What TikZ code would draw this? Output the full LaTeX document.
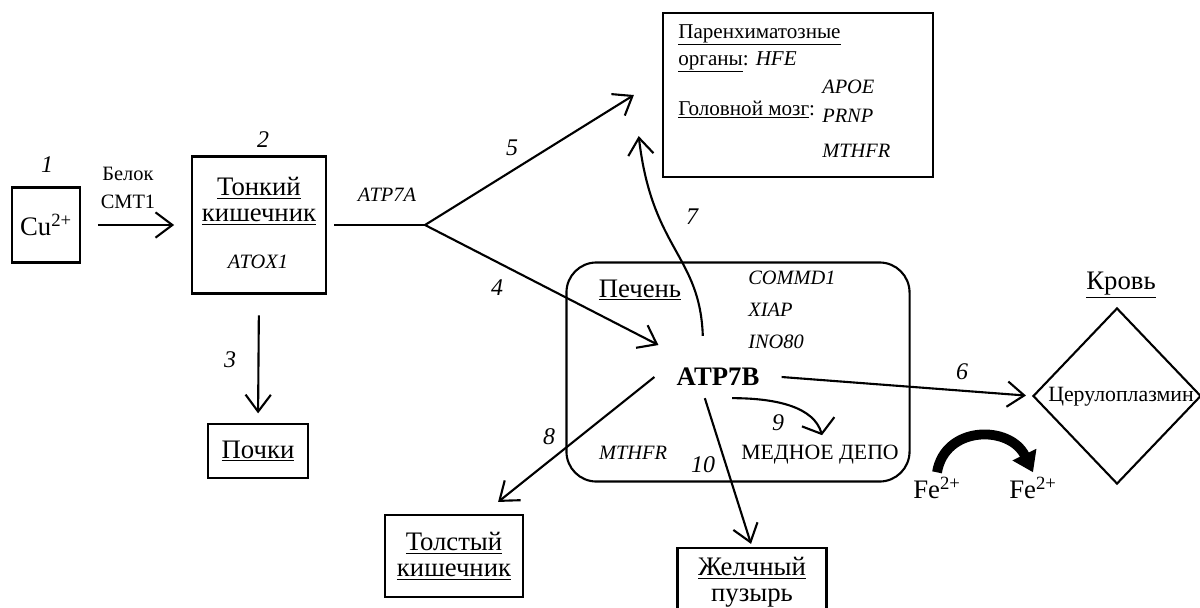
\documentclass[tikz,border=0pt]{standalone}
\usepackage{fontspec}
\setmainfont{Liberation Serif}
\usetikzlibrary{arrows.meta, shapes.geometric, calc}

\tikzset{
  box/.style={draw, line width=1.5pt, inner sep=0pt},
  organ/.style={font=\fontsize{19}{18.5}\selectfont, align=center},
  note/.style={font=\fontsize{15}{19}\selectfont, inner sep=0pt},
  gene/.style={font=\fontsize{14.5}{16}\selectfont\itshape, inner sep=0pt},
  num/.style={font=\fontsize{17}{17}\selectfont\itshape, inner sep=0pt},
  arrow/.style={-{Straight Barb[length=12pt, width=18pt]}, line width=1.5pt},
  checktip/.style={-{Straight Barb[length=9pt, width=24pt]}, line width=1.5pt},
}

\begin{document}
\begin{tikzpicture}[x=0.025cm, y=-0.025cm]
  \useasboundingbox (0,0) rectangle (1200,607);

  \node[box, organ, minimum width=1.7cm, minimum height=1.875cm] (cu) at (46,225) {Cu\textsuperscript{2+}};
  \node[num] (n1) at (47,165) {1};
  \node[note, align=center, font=\fontsize{14.5}{20.5}\selectfont] (cmt) at (128,188) {Белок\\СМТ1};

  \node[box, minimum width=3.35cm, minimum height=3.425cm] (small) at (259,225) {};
  \node[organ] (smalltxt) at (259,201) {\underline{Тонкий}\\\underline{кишечник}};
  \node[gene] (atox) at (258,262) {ATOX1};
  \node[num] (n2) at (263,140) {2};
  \node[gene] (atp7a) at (387,195) {ATP7A};
  \coordinate (fork) at (425,225);

  \node[box, minimum width=6.75cm, minimum height=4.1cm] (paren) at (798,95) {};
  \node[note, anchor=base west] (parentxt) at (678,38) {\underline{Паренхиматозные}};
  \node[note, anchor=base west] (organs) at (678,65) {\underline{органы}: \textit{HFE}};
  \node[note, anchor=base west] (brain) at (678,115) {\underline{Головной мозг}:};
  \node[gene, anchor=base west] (apoe) at (822,93) {APOE};
  \node[gene, anchor=base west] (prnp) at (822,122) {PRNP};
  \node[gene, anchor=base west] (mthfrb) at (822,157) {MTHFR};

  \node[box, organ, minimum width=2.5cm, minimum height=1.33cm] (kidney) at (258,451) {\underline{Почки}};
  \node[num] (n3) at (230,360) {3};

  \node[box, rounded corners=0.75cm, minimum width=8.575cm, minimum height=5.475cm] (liver) at (738,372) {};
  \node[organ] (livertxt) at (640,290) {\underline{Печень}};
  \node[gene, anchor=west] (commd) at (748,278) {COMMD1};
  \node[gene, anchor=west] (xiap) at (748,310) {XIAP};
  \node[gene, anchor=west] (ino) at (748,342) {INO80};
  \node[font=\fontsize{19}{19}\selectfont\bfseries, inner xsep=0.55cm, inner ysep=0.3cm] (atp) at (718,377) {ATP7B};
  \node[gene] (mthfrl) at (633,453) {MTHFR};
  \node[note, font=\fontsize{15.5}{16}\selectfont] (depo) at (820,455) {МЕДНОЕ ДЕПО};

  \node[box, organ, minimum width=3.45cm, minimum height=2.05cm] (tolst) at (454,556) {\underline{Толстый}\\\underline{кишечник}};
  \node[box, minimum width=3.725cm, minimum height=2.05cm] (zhel) at (752,589) {};
  \node[organ] (zheltxt) at (752,584) {\underline{Желчный}\\\underline{пузырь}};

  \node[draw, diamond, line width=1.5pt, minimum width=4.2cm, minimum height=4.4cm, inner sep=0pt] (blood) at (1117,396) {};
  \node[note, font=\fontsize{15.5}{16}\selectfont] (cerulo) at (1121,397) {Церулоплазмин};
  \node[organ] (bloodtxt) at (1121,285) {\underline{Кровь}};

  \node[organ] (fea) at (937,488) {Fe\textsuperscript{2+}};
  \node[organ] (feb) at (1033,488) {Fe\textsuperscript{2+}};

  \node[num] (n4) at (497,288) {4};
  \node[num] (n5) at (512,148) {5};
  \node[num] (n6) at (962,372) {6};
  \node[num] (n7) at (692,217) {7};
  \node[num] (n8) at (549,437) {8};
  \node[num] (n9) at (778,423) {9};
  \node[num] (n10) at (703,465) {10};

  \draw[arrow, shorten <=0.42cm, shorten >=0.42cm] (cu) -- (small);
  \draw[line width=1.5pt, shorten <=0.18cm] (small.east) -- (fork);
  \draw[arrow] (fork) -- ([xshift=-0.7cm]paren.west);
  \draw[arrow] (fork) -- ([shift={(0.1cm,0.27cm)}]atp.north west);
  \draw[arrow, shorten <=0.52cm, shorten >=0.25cm] (small.south) -- (kidney.north);
  \draw[arrow] ([shift={(-0.38cm,0.5cm)}]atp.north) .. controls (700,255) and (652,250) .. ([shift={(-0.58cm,1.05cm)}]paren.south west);
  \draw[arrow, shorten >=0.15cm] (atp.east) -- (blood.west);
  \draw[arrow] (atp.west) -- ([shift={(-0.65cm,0.3cm)}]tolst.north east);
  \draw[arrow, shorten >=0.08cm] ([xshift=-0.33cm]atp.south) -- (zhel.north);
  \draw[checktip] ([xshift=0.35cm]atp.south) .. controls +(45,0) and +(-8,-28) .. ([shift={(0.05cm,0.25cm)}]depo.north);
  \draw[line width=7pt, -{Triangle[length=14pt, width=18pt]}] (fea.north) .. controls (945,425) and (1010,425) .. (feb.north);

\end{tikzpicture}
\end{document}
